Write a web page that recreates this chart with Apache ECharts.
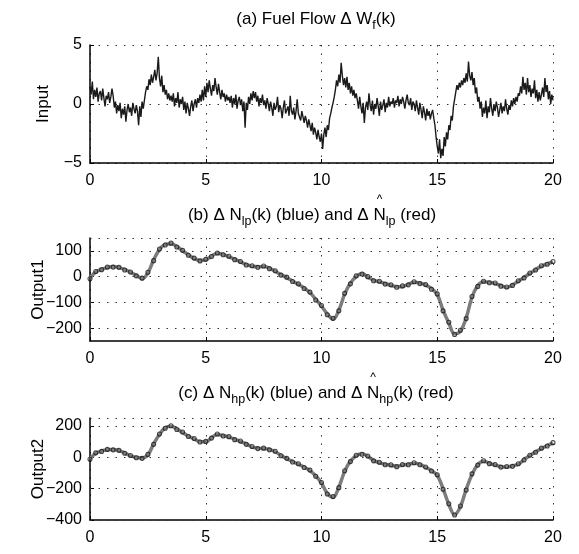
<!DOCTYPE html>
<html><head><meta charset="utf-8">
<script src="https://cdn.jsdelivr.net/npm/echarts@6/dist/echarts.min.js"></script>
<style>html,body{margin:0;padding:0;background:#fff}#c{width:579px;height:554px}</style>
</head><body><div id="c"></div>
<script>
// ---- data ----
const xTicks = [0, 5, 10, 15, 20];
const yTicksInput = [-5, 0, 5];
const yTicksOut1 = [-200, -100, 0, 100];
const yTicksOut2 = [-400, -200, 0, 200];
const inputDt = 0.05;   // sample spacing of the fuel-flow record
const outputDt = 0.25;  // sample spacing of the read-off output curves

const inputFuel = [
 1.5,0.8,1.9,0.4,1.2,0.6,1.4,0.2,0.9,1.1,0.3,1.3,0.5,-0.2,0.7,0.4,1.0,0.1,0.6,1.3,0.7,
 -0.3,0.2,-0.8,-0.1,-0.6,0.1,-1.2,-0.4,-0.9,-0.2,-1.5,-0.5,0.0,-0.7,-0.3,-1.0,0.1,-0.4,-0.8,-0.1,-0.6,-1.8,-0.2,-1.1,0.2,-0.4,
 0.3,1.0,1.5,1.2,2.1,1.6,2.5,1.8,2.3,2.9,2.0,2.6,4.0,2.2,1.5,2.4,1.0,1.6,0.8,1.2,0.4,0.9,0.3,0.7,
 0.2,0.9,-0.2,0.5,0.1,1.0,-0.3,0.4,0.0,0.6,-0.5,0.2,-0.8,0.1,-0.4,-1.0,-0.2,0.3,-0.6,0.0,0.4,-0.3,0.5,0.1,0.8,0.2,1.2,0.3,1.5,0.6,
 1.8,1.0,2.0,1.3,0.7,1.6,1.1,2.2,1.4,0.8,1.7,1.0,0.4,1.2,0.6,0.9,0.2,0.8,0.3,0.6,
 0.1,0.7,-0.3,0.5,0.0,0.8,-0.4,0.3,0.6,-0.1,0.4,-0.6,0.2,-2.0,0.1,-0.5,0.6,0.0,0.9,0.3,1.1,0.5,1.0,0.2,0.7,-0.2,0.5,0.1,0.8,-0.1,
 0.3,-0.4,0.5,0.0,-0.6,0.2,-0.3,-1.0,0.1,-0.5,-0.2,0.6,-0.7,-0.1,-0.4,-1.2,-0.3,0.3,-0.8,-0.5,-0.2,-1.0,0.7,-0.6,-0.9,-0.3,-1.3,-0.6,0.4,-0.8,
 -0.9,-1.4,-0.6,-1.1,-1.6,-1.0,-1.4,-2.0,-1.3,-1.8,-2.3,-1.6,-2.6,-2.0,-2.4,-3.0,-2.2,-2.8,-3.2,-2.5,-3.8,-2.6,-2.0,-2.8,-1.8,-2.2,-1.2,-0.8,-0.3,0.1,
 0.6,1.2,2.0,1.5,2.5,1.8,3.5,2.4,1.6,2.2,1.4,2.3,1.2,1.8,0.9,1.5,0.7,1.2,0.5,0.9,
 0.3,-0.4,0.6,-0.2,-0.8,0.1,-1.6,-0.3,0.2,-0.5,0.9,-0.1,-0.6,0.3,-0.9,0.0,-0.4,0.5,-0.2,-1.0,0.2,-0.5,-0.1,0.4,-0.7,0.1,-0.3,0.6,-0.2,0.2,
 0.0,0.5,-0.3,0.3,0.1,0.7,-0.2,0.4,0.0,0.6,0.2,-0.4,0.3,0.8,0.1,-0.1,0.5,-0.5,0.2,0.0,-0.6,0.3,-0.3,-0.9,0.1,-0.5,-1.2,-0.2,-0.7,-1.4,
 -0.4,-1.0,-0.6,-1.3,-0.8,-0.5,-1.2,-1.8,-2.8,-3.6,
 -4.2,-3.0,-4.6,-3.8,-4.4,-2.8,-3.6,-2.4,-3.0,-1.8,-2.2,-1.0,-1.4,-0.2,0.4,1.0,
 1.6,1.2,1.8,1.4,2.0,1.6,2.2,1.8,2.6,1.9,3.6,2.4,2.0,2.7,1.6,2.2,0.9,1.4,0.2,0.6,-0.4,0.2,-1.1,-0.3,
 -0.8,0.3,-1.2,-0.2,-0.7,0.5,-0.4,-1.0,0.0,-0.6,0.2,-0.3,-1.1,-0.5,0.1,-0.8,-0.2,-0.6,0.4,-0.4,-0.9,-0.1,-0.5,0.3,-0.2,0.5,0.0,0.6,0.2,0.9,
 0.7,1.5,0.9,2.3,1.2,1.8,0.8,2.2,1.0,1.6,0.6,1.3,0.9,2.0,0.5,1.2,0.2,1.0,0.3,0.8,1.4,0.6,2.2,1.0,1.6,0.4,1.1,0.0,0.8,0.3
];

const out1True = [
 -5,18,28,35,39,35,28,17,5,-8,
 15,65,105,125,128,117,100,85,70,63,
 65,80,90,87,77,68,57,47,40,38,
 39,33,21,8,-4,-17,-30,-44,-62,-88,
 -115,-145,-165,-130,-68,-25,0,12,-2,-14,
 -20,-27,-34,-39,-38,-30,-22,-25,-33,-46,
 -70,-130,-180,-222,-212,-160,-80,-35,-20,-22,
 -27,-35,-42,-32,-18,-3,12,28,40,50,
 57
];
const out1Est = [
 -8,20,27,37,37,36,26,18,3,-6,
 17,62,107,123,130,115,102,83,72,61,
 67,78,92,85,79,66,59,45,42,36,
 41,31,23,6,-2,-19,-28,-46,-60,-91,
 -112,-148,-162,-133,-65,-28,3,10,0,-16,
 -18,-29,-32,-41,-36,-32,-20,-27,-31,-49,
 -67,-133,-177,-225,-208,-163,-77,-38,-18,-24,
 -25,-37,-40,-34,-16,-5,14,26,42,48,
 59
];
const out2True = [
 -10,25,40,48,50,42,28,8,0,-5,
 15,85,145,188,198,180,158,135,116,100,
 98,125,145,138,128,115,100,85,65,58,
 55,50,35,12,-10,-27,-45,-62,-85,-118,
 -165,-230,-255,-190,-90,-25,10,22,5,-20,
 -35,-45,-52,-57,-50,-45,-38,-45,-65,-85,
 -115,-200,-300,-365,-315,-205,-110,-47,-25,-38,
 -50,-60,-62,-55,-45,-15,10,35,55,75,
 90
];
const out2Est = [
 -13,28,37,50,47,44,25,11,-3,-7,
 18,82,148,185,201,177,161,132,119,97,
 101,122,148,135,131,112,103,82,68,55,
 58,47,38,9,-7,-30,-42,-65,-82,-121,
 -161,-234,-251,-194,-86,-28,13,19,8,-23,
 -32,-48,-49,-60,-47,-48,-35,-48,-62,-88,
 -112,-204,-296,-368,-311,-209,-106,-50,-22,-41,
 -47,-63,-59,-58,-42,-18,13,32,58,72,
 93
];

// ---- chart ----
function pairs(arr, dt) { return arr.map((v, i) => [Math.round(i * dt * 1000) / 1000, v]); }
const FONT = '"Liberation Sans", Arial, Helvetica, sans-serif';
const TICK = 16, TMAIN = 17, TSUB = 12.5;
const minus = v => (v < 0 ? '\u2212' + (-v) : String(v));

const grids = [
  {left: 90, right: 26, top: 45, height: 118},
  {left: 90, right: 26, top: 238, height: 103},
  {left: 90, right: 26, top: 418, height: 102}
];
const dotted = {color: '#333', type: [1.5, 7], width: 1};

function xAx(i) {
  return {
    gridIndex: i, type: 'value', min: xTicks[0], max: xTicks[xTicks.length - 1], interval: xTicks[1] - xTicks[0],
    axisLine: {show: true, onZero: false, lineStyle: {color: '#000', width: 1.5}},
    axisTick: {show: true, inside: true, length: 4, lineStyle: {color: '#000'}},
    axisLabel: {color: '#000', fontSize: TICK, fontFamily: FONT, margin: 10},
    splitLine: {show: true, lineStyle: dotted}
  };
}
function yAx(i, ticks, min, max, name, gap, useSplit) {
  return {
    gridIndex: i, type: 'value', min: min, max: max,
    name: name, nameLocation: 'middle', nameGap: gap, nameRotate: 90, nameMoveOverlap: false,
    nameTextStyle: {color: '#000', fontSize: TICK + 1, fontFamily: FONT},
    axisLine: {show: true, onZero: false, lineStyle: {color: '#000', width: 1.5}},
    axisTick: {show: true, inside: true, length: 4, lineStyle: {color: '#000'}, customValues: ticks},
    axisLabel: {color: '#000', fontSize: TICK, fontFamily: FONT, margin: 8, customValues: ticks, formatter: minus},
    splitLine: {show: useSplit, lineStyle: dotted}
  };
}
// dotted horizontal grid for panels whose range is not a tick multiple
function gridMarks(ticks, top) {
  return {silent: true, symbol: 'none', label: {show: false}, lineStyle: dotted, animation: false,
    data: ticks.concat([top]).map(v => ({yAxis: v}))};
}

// title builder (sub/superscript segments measured on a canvas)
const mctx = document.createElement('canvas').getContext('2d');
function measure(t, size) { mctx.font = size + 'px ' + FONT; return mctx.measureText(t).width; }
function titleEls(segs, cx, cy) {
  let total = 0;
  segs.forEach(s => { s.size = s.sub ? TSUB : TMAIN; s.w = measure(s.t, s.size); total += s.w; });
  let x = cx - total / 2;
  const els = [];
  segs.forEach(s => {
    els.push({type: 'text', x: x, y: cy + (s.sub ? 7 : 0), silent: true,
      style: {text: s.t, font: s.size + 'px ' + FONT, fill: '#000', align: 'left', verticalAlign: 'middle'}});
    if (s.hat) els.push({type: 'text', x: x + s.w / 2, y: cy - 15, silent: true,
      style: {text: '^', font: '12px ' + FONT, fill: '#000', align: 'center', verticalAlign: 'middle'}});
    x += s.w;
  });
  return els;
}

const titleA = [{t: '(a) Fuel Flow \u0394 W'}, {t: 'f', sub: true}, {t: '(k)'}];
const titleB = [{t: '(b) \u0394 N'}, {t: 'lp', sub: true}, {t: '(k) (blue) and \u0394 '}, {t: 'N', hat: true}, {t: 'lp', sub: true}, {t: ' (red)'}];
const titleC = [{t: '(c) \u0394 N'}, {t: 'hp', sub: true}, {t: '(k) (blue) and \u0394 '}, {t: 'N', hat: true}, {t: 'hp', sub: true}, {t: '(k) (red)'}];

const chart = echarts.init(document.getElementById('c'), null, {renderer: 'canvas'});
const lineTrue = {color: '#7c7c7c', width: 3.5};
const estItem = {color: 'rgba(0,0,0,0)', borderColor: '#1a1a1a', borderWidth: 1.1};

chart.setOption({
  animation: false,
  backgroundColor: '#fff',
  grid: grids,
  xAxis: [xAx(0), xAx(1), xAx(2)],
  yAxis: [
    Object.assign(yAx(0, yTicksInput, -5, 5, 'Input', 38, true), {interval: 5}),
    yAx(1, yTicksOut1, -250, 150, 'Output1', 43, false),
    yAx(2, yTicksOut2, -400, 250, 'Output2', 43, false)
  ],
  graphic: [].concat(titleEls(titleA, 316, 19), titleEls(titleB, 312, 215), titleEls(titleC, 316, 393)),
  series: [
    {type: 'line', xAxisIndex: 0, yAxisIndex: 0, data: pairs(inputFuel, inputDt), showSymbol: false,
     lineStyle: {color: '#1a1a1a', width: 1.4}},
    {type: 'line', xAxisIndex: 1, yAxisIndex: 1, data: pairs(out1True, outputDt), showSymbol: false, smooth: 0.4,
     lineStyle: lineTrue, markLine: gridMarks(yTicksOut1, 150), z: 2},
    {type: 'scatter', xAxisIndex: 1, yAxisIndex: 1, data: pairs(out1Est, outputDt), symbol: 'circle', symbolSize: 4,
     itemStyle: estItem, z: 3},
    {type: 'line', xAxisIndex: 2, yAxisIndex: 2, data: pairs(out2True, outputDt), showSymbol: false, smooth: 0.4,
     lineStyle: lineTrue, markLine: gridMarks(yTicksOut2, 250), z: 2},
    {type: 'scatter', xAxisIndex: 2, yAxisIndex: 2, data: pairs(out2Est, outputDt), symbol: 'circle', symbolSize: 4,
     itemStyle: estItem, z: 3}
  ]
});
</script>
</body></html>
